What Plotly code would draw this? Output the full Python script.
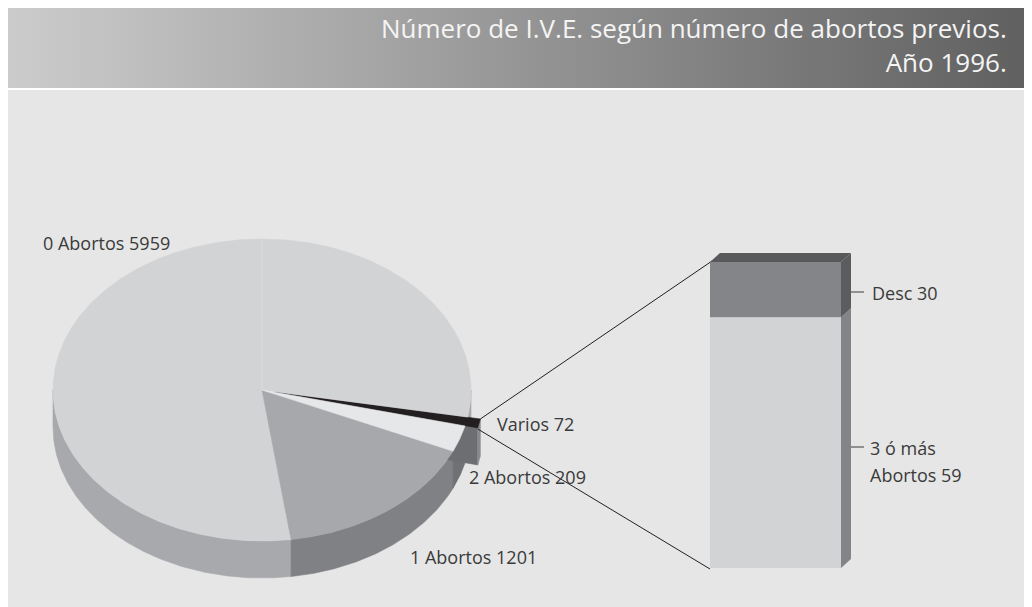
import numpy as np
import plotly.graph_objects as go

# ---------------- data ----------------
pie_labels = ["0 Abortos", "Varios", "2 Abortos", "1 Abortos"]
pie_values = [5959, 72, 209, 1201]
bar_label_lines = [["3 ó más", "Abortos 59"], ["Desc 30"]]
bar_values = [59, 13]          # stacked heights as drawn (split of "Varios")
title_lines = ["Número de I.V.E. según número de abortos previos.", "Año 1996."]

# ---------------- style ----------------
W, H = 1032, 607
OFF = 8   # page body margin: data coords are viewport pixels
FONT = "'Open Sans', Lato, sans-serif"
TXT = "#3a3a3a"
top_cols = ["#d2d3d5", "#231f20", "#e6e7e9", "#a7a8ab"]
side_cols = ["#a8a9ac", "#8a8b8e", "#707174", "#808184"]
cx, cy, rx, ry, depth = 262, 390, 209, 151, 37
start_angle = 172
explode = [0, 13, 0, 0]

fig = go.Figure()

# header band with gradient
fig.add_trace(go.Scatter(x=[7, 1027, 1027, 7, 7], y=[6, 6, 88, 88, 6], mode="lines",
                         fill="toself", line=dict(width=0),
                         fillgradient=dict(type="horizontal",
                                           colorscale=[[0, "#cccccc"], [1, "#606060"]]),
                         hoverinfo="skip", showlegend=False))
# panel
fig.add_trace(go.Scatter(x=[7, 1027, 1027, 7, 7], y=[90, 90, 620, 620, 90], mode="lines",
                         fill="toself", fillcolor="#e6e6e6", line=dict(width=0),
                         hoverinfo="skip", showlegend=False))

total = sum(pie_values)
spans = [v / total * 360 for v in pie_values]
bounds = []
a = start_angle
for s in spans:
    bounds.append((a, a + s))
    a += s


def offset(i):
    a0, a1 = bounds[i]
    m = np.radians((a0 + a1) / 2)
    e = explode[i]
    return e * np.sin(m), -e * (ry / rx) * np.cos(m)


def arc(a0, a1, dx, dy, down=0.0):
    n = max(2, int(abs(a1 - a0) * 2) + 2)
    t = np.radians(np.linspace(a0, a1, n))
    return cx + dx + rx * np.sin(t), cy + dy - ry * np.cos(t) + down


def poly(xs, ys, color):
    fig.add_trace(go.Scatter(x=list(xs) + [xs[0]], y=list(ys) + [ys[0]], mode="lines",
                             fill="toself", fillcolor=color, line=dict(width=0.6, color=color),
                             hoverinfo="skip", showlegend=False))


def side_wall(i):
    a0, a1 = bounds[i]
    dx, dy = offset(i)
    for k in range(-1, 3):
        lo, hi = max(a0, 90 + 360 * k), min(a1, 270 + 360 * k)
        if hi > lo:
            xt, yt = arc(lo, hi, dx, dy)
            xb, yb = arc(hi, lo, dx, dy, depth)
            poly(np.concatenate([xt, xb]), np.concatenate([yt, yb]), side_cols[i])


def top_face(i):
    a0, a1 = bounds[i]
    dx, dy = offset(i)
    xt, yt = arc(a0, a1, dx, dy)
    poly(np.concatenate([[cx + dx], xt]), np.concatenate([[cy + dy], yt]), top_cols[i])


# side walls of non exploded slices
for i in (0, 3, 2):
    side_wall(i)

# exploded slice: radial face, outer wall, top
dxv, dyv = offset(1)
a_end = np.radians(bounds[1][1])
ex, ey = cx + dxv + rx * np.sin(a_end), cy + dyv - ry * np.cos(a_end)
poly([cx + dxv, ex, ex, cx + dxv], [cy + dyv, ey, ey + depth, cy + dyv + depth], "#6d6e71")
side_wall(1)
top_face(1)

for i in (0, 3, 2):
    top_face(i)

# faint seam at 12 o'clock
fig.add_trace(go.Scatter(x=[cx, cx], y=[cy, cy - ry], mode="lines",
                         line=dict(color="#dcdde0", width=1), hoverinfo="skip", showlegend=False))

# ---------------- bar of pie (value axis) ----------------
bar_bottom_px, bar_top_px = 568, 262
k = sum(bar_values) / (bar_bottom_px - bar_top_px)      # value per pixel
y2_range = [-(H + OFF - bar_bottom_px) * k, (bar_bottom_px - OFF) * k]
bx0, bx1 = 710, 841
ddx, ddy = 10, 9 * k
front_cols = ["#d2d3d5", "#848588"]
bside_cols = ["#838487", "#5b5c5e"]
base = 0
for v, fc, sc in zip(bar_values, front_cols, bside_cols):
    fig.add_trace(go.Bar(x=[(bx0 + bx1) / 2], y=[v], base=[base], width=bx1 - bx0,
                         marker=dict(color=fc, line=dict(width=0)), xaxis="x2", yaxis="y2",
                         hoverinfo="skip", showlegend=False))
    fig.add_trace(go.Scatter(x=[bx1, bx1 + ddx, bx1 + ddx, bx1, bx1],
                             y=[base, base + ddy, base + v + ddy, base + v, base],
                             mode="lines", fill="toself", fillcolor=sc, line=dict(width=0),
                             xaxis="x2", yaxis="y2", hoverinfo="skip", showlegend=False))
    base += v
fig.add_trace(go.Scatter(x=[bx0, bx1, bx1 + ddx, bx0 + ddx, bx0],
                         y=[base, base, base + ddy, base + ddy, base],
                         mode="lines", fill="toself", fillcolor="#58595b", line=dict(width=0),
                         xaxis="x2", yaxis="y2", hoverinfo="skip", showlegend=False))

# connector lines (pixel space)
a_st = np.radians(bounds[1][0])
sx, sy = cx + dxv + rx * np.sin(a_st), cy + dyv - ry * np.cos(a_st)
fig.add_trace(go.Scatter(x=[sx, bx0 + 2], y=[sy, bar_top_px - 1], mode="lines",
                         line=dict(color="#231f20", width=1), hoverinfo="skip", showlegend=False))
fig.add_trace(go.Scatter(x=[ex, bx0], y=[ey + 1, bar_bottom_px + 1], mode="lines",
                         line=dict(color="#231f20", width=1), hoverinfo="skip", showlegend=False))

# bar label ticks
tick_y = [447, 292]
for ty in tick_y:
    fig.add_trace(go.Scatter(x=[849, 864], y=[ty, ty], mode="lines",
                             line=dict(color="#3a3a3a", width=1), hoverinfo="skip", showlegend=False))

# ---------------- annotations ----------------
ann = []
fs = 18
pie_lab_pos = [(41, 243), (495, 424), (467, 477), (408, 557)]
for (lx, ly), lab, val in zip(pie_lab_pos, pie_labels, pie_values):
    ann.append(dict(x=lx, y=ly, text=f"{lab} {val}", showarrow=False, xanchor="left",
                    yanchor="middle", font=dict(family=FONT, size=fs, color=TXT)))
bar_lab_pos = [[(868, 448), (868, 475)], [(870, 293)]]
for lines, poss in zip(bar_label_lines, bar_lab_pos):
    for t, (lx, ly) in zip(lines, poss):
        ann.append(dict(x=lx, y=ly, text=t, showarrow=False, xanchor="left",
                        yanchor="middle", font=dict(family=FONT, size=fs, color=TXT)))
ann.append(dict(x=1009, y=45, text="<br>".join(title_lines), showarrow=False, xanchor="right",
                yanchor="middle", align="right", font=dict(family=FONT, size=26, color="#f4f4f4")))

ax = dict(visible=False, showgrid=False, zeroline=False, fixedrange=True)
fig.update_layout(
    width=W, height=H, margin=dict(l=0, r=0, t=0, b=0),
    paper_bgcolor="white", plot_bgcolor="white",
    xaxis=dict(range=[OFF, W + OFF], domain=[0, 1], **ax),
    yaxis=dict(range=[H + OFF, OFF], domain=[0, 1], **ax),
    xaxis2=dict(range=[OFF, W + OFF], domain=[0, 1], overlaying="x", **ax),
    yaxis2=dict(range=y2_range, domain=[0, 1], overlaying="y", **ax),
    annotations=ann, showlegend=False, barmode="overlay",
)
fig.write_html("out.html")
